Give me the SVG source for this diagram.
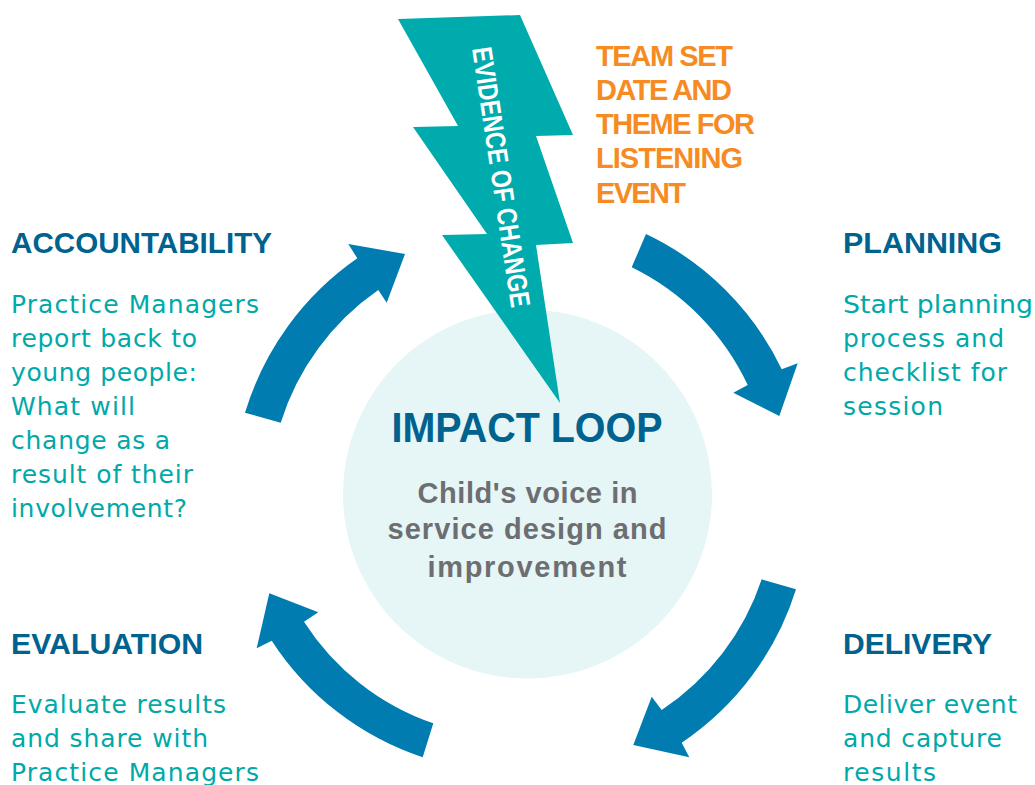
<svg xmlns="http://www.w3.org/2000/svg" width="1035" height="785" viewBox="0 0 1035 785">
<style>
.h{font-family:"Liberation Sans",Arial,sans-serif;font-weight:bold;font-size:30px;fill:#00628e}
.b{font-family:"DejaVu Sans","Liberation Sans",sans-serif;font-size:25px;fill:#00a9a9}
.o{font-family:"Liberation Sans",Arial,sans-serif;font-weight:bold;font-size:29px;fill:#f68b24}
.c{font-family:"Liberation Sans",Arial,sans-serif;font-weight:bold;font-size:29px;fill:#6d6e71;text-anchor:middle}
.arrow{fill:#007cb0}
</style>
<rect width="1035" height="785" fill="#ffffff"/>
<g id="center">
<circle cx="527.5" cy="494" r="184.5" fill="#e6f5f5"/>
</g>
<g id="bolt">
<polygon points="398,19 520,15 573,135 536,136 573,243 536,245 560,403 442,235 487,234 413,127 458,126" fill="#00abad"/>
<text transform="translate(501.5,177) rotate(81.4)" x="0" y="10" text-anchor="middle" textLength="263" lengthAdjust="spacingAndGlyphs" font-family="'Liberation Sans',Arial,sans-serif" font-weight="bold" font-size="28" fill="#ffffff">EVIDENCE OF CHANGE</text>
</g>
<g id="center-text">
<text x="527" y="442" text-anchor="middle" textLength="271" lengthAdjust="spacingAndGlyphs" font-family="'Liberation Sans',Arial,sans-serif" font-weight="bold" font-size="42" fill="#00628e">IMPACT LOOP</text>
<text class="c" x="527.5" y="503" textLength="220">Child's voice in</text>
<text class="c" x="527" y="539" textLength="279">service design and</text>
<text class="c" x="527" y="577" textLength="199">improvement</text>
</g>
<g id="connectors">
<path class="arrow" d="M646,234 A286,286 0 0 1 781.7,369.3 L797.7,363.3 L779.3,416 L733.3,392.7 L747.7,385 A248,248 0 0 0 631.7,267.3 Z"/>
<path class="arrow" d="M796,589.3 A288,288 0 0 1 681.7,742.7 L689.3,757.3 L633.3,745 L651.7,696.7 L661.7,710 A252,252 0 0 0 761.7,579.3 Z"/>
<path class="arrow" d="M422.7,757.3 A288,288 0 0 1 271.7,640.7 L256.7,648.3 L269.3,593.3 L318.3,612.3 L304,621.7 A250,250 0 0 0 433.3,723.3 Z"/>
<path class="arrow" d="M245,412.7 A290,290 0 0 1 357.3,258.3 L348.3,244 L405,254 L386.7,302.7 L378.3,290 A253,253 0 0 0 280.7,422.7 Z"/>
</g>
<g id="team">
<text class="o" x="596" y="66" textLength="137">TEAM SET</text>
<text class="o" x="596" y="100" textLength="136">DATE AND</text>
<text class="o" x="596" y="134" textLength="159">THEME FOR</text>
<text class="o" x="596" y="168" textLength="147">LISTENING</text>
<text class="o" x="596" y="203" textLength="90">EVENT</text>
</g>
<g id="accountability">
<text class="h" x="11" y="253" textLength="261" lengthAdjust="spacingAndGlyphs">ACCOUNTABILITY</text>
<text class="b" x="11" y="313" textLength="248">Practice Managers</text>
<text class="b" x="11" y="347" textLength="186">report back to</text>
<text class="b" x="11" y="381" textLength="186">young people:</text>
<text class="b" x="11" y="415" textLength="124">What will</text>
<text class="b" x="11" y="449" textLength="159">change as a</text>
<text class="b" x="11" y="483" textLength="182">result of their</text>
<text class="b" x="11" y="517" textLength="176">involvement?</text>
</g>
<g id="planning">
<text class="h" x="843" y="253" textLength="159" lengthAdjust="spacingAndGlyphs">PLANNING</text>
<text class="b" x="843" y="313" textLength="190" lengthAdjust="spacingAndGlyphs">Start planning</text>
<text class="b" x="843" y="347" textLength="161">process and</text>
<text class="b" x="843" y="381" textLength="164">checklist for</text>
<text class="b" x="843" y="415" textLength="100">session</text>
</g>
<g id="evaluation">
<text class="h" x="11" y="654" textLength="192" lengthAdjust="spacingAndGlyphs">EVALUATION</text>
<text class="b" x="11" y="713" textLength="215">Evaluate results</text>
<text class="b" x="11" y="747" textLength="197">and share with</text>
<text class="b" x="11" y="781" textLength="248">Practice Managers</text>
</g>
<g id="delivery">
<text class="h" x="843" y="654" textLength="149" lengthAdjust="spacingAndGlyphs">DELIVERY</text>
<text class="b" x="843" y="713" textLength="174">Deliver event</text>
<text class="b" x="843" y="747" textLength="159">and capture</text>
<text class="b" x="843" y="781" textLength="93">results</text>
</g>
</svg>
